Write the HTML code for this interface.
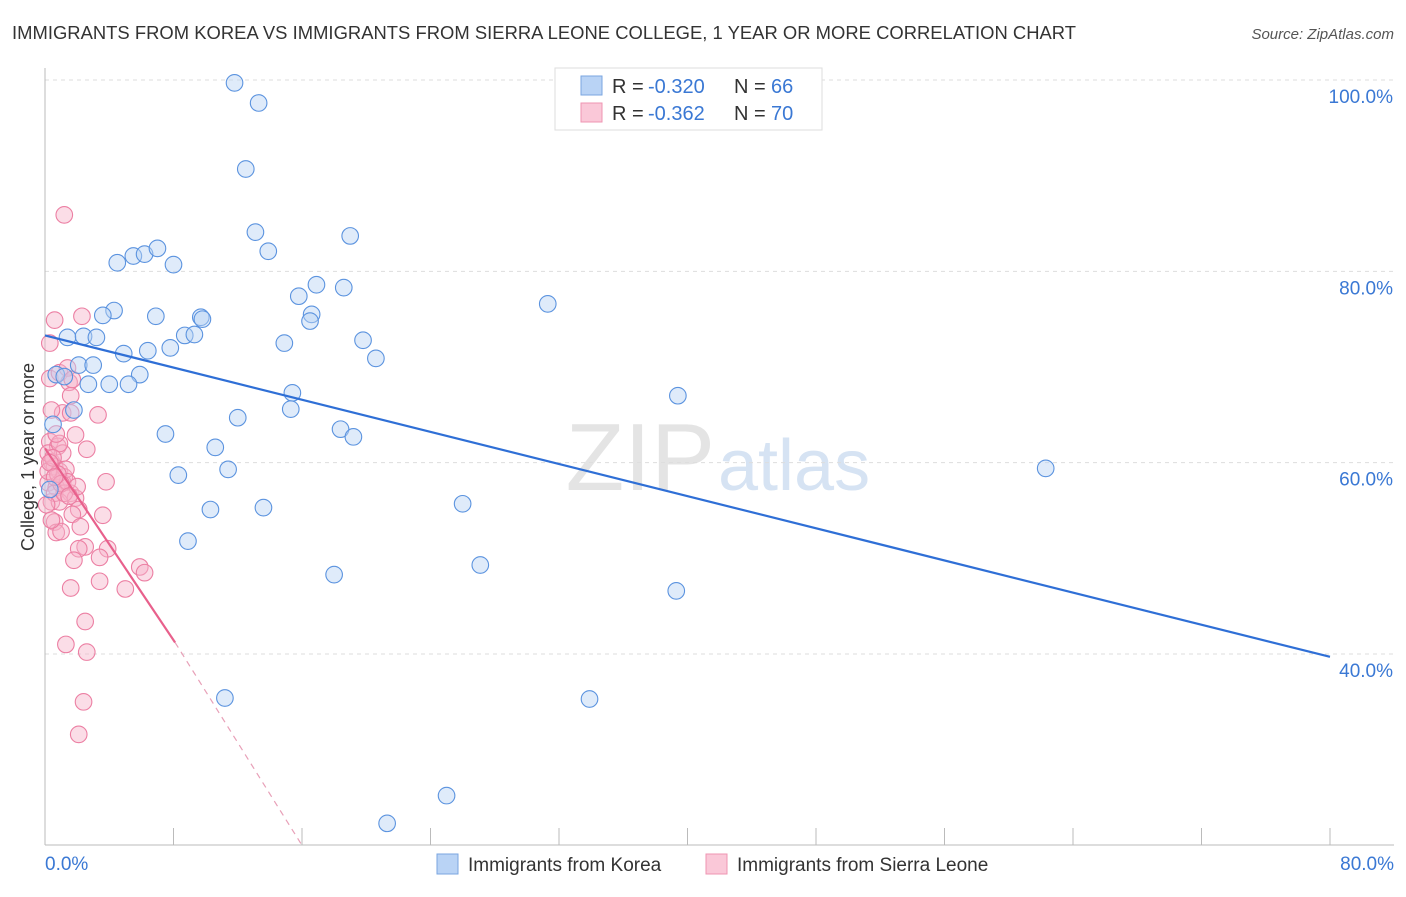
<!DOCTYPE html>
<html><head><meta charset="utf-8"><style>
body{margin:0;background:#fff;font-family:"Liberation Sans",sans-serif;}
svg text{font-family:"Liberation Sans",sans-serif;}
</style></head><body>
<svg id="c" width="1406" height="892" xmlns="http://www.w3.org/2000/svg">
<text x="12" y="39" font-size="18.4" fill="#333" textLength="1064">IMMIGRANTS FROM KOREA VS IMMIGRANTS FROM SIERRA LEONE COLLEGE, 1 YEAR OR MORE CORRELATION CHART</text>
<text x="1394" y="39" font-size="15" fill="#555" font-style="italic" text-anchor="end">Source: ZipAtlas.com</text>
<text x="715" y="490" font-size="96" fill="#e4e4e4" font-family="Liberation Serif" text-anchor="end">ZIP</text>
<text x="718" y="490" font-size="72" fill="#d6e3f3">atlas</text>
<g id="grid"></g><g id="marks"></g>
<text transform="translate(34,457) rotate(-90)" font-size="18" fill="#333" text-anchor="middle">College, 1 year or more</text>
<g>
<rect x="555" y="68" width="267" height="62" fill="#fff" stroke="#ddd"/>
<rect x="581" y="76" width="21" height="19" fill="#b9d3f5" stroke="#7aa6e0"/>
<rect x="581" y="103" width="21" height="19" fill="#fac8d8" stroke="#ef94b2"/>
<text x="612" y="93" font-size="20" fill="#333">R =</text><text x="648" y="93" font-size="20" fill="#3a78d4">-0.320</text>
<text x="734" y="93" font-size="20" fill="#333">N =</text><text x="771" y="93" font-size="20" fill="#3a78d4">66</text>
<text x="612" y="120" font-size="20" fill="#333">R =</text><text x="648" y="120" font-size="20" fill="#3a78d4">-0.362</text>
<text x="734" y="120" font-size="20" fill="#333">N =</text><text x="771" y="120" font-size="20" fill="#3a78d4">70</text>
</g>
<g>
<rect x="437" y="854" width="21" height="20" fill="#b9d3f5" stroke="#7aa6e0"/>
<text x="468" y="871" font-size="19" fill="#333">Immigrants from Korea</text>
<rect x="706" y="854" width="21" height="20" fill="#fac8d8" stroke="#ef94b2"/>
<text x="737" y="871" font-size="19" fill="#333">Immigrants from Sierra Leone</text>
</g>
</svg>
<script>
const yTicks=[100,80,60,40];
const xTickLabels=["0.0%","80.0%"];
const koreaX=[11.8,13.3,12.5,13.1,13.9,19.0,4.5,5.5,6.2,7.0,8.0,15.8,16.9,18.6,31.3,4.3,3.6,6.9,9.7,9.8,16.6,16.5,1.4,2.4,3.2,8.7,9.3,7.8,6.4,4.9,14.9,19.8,20.6,2.1,3.0,0.7,1.2,5.9,4.0,5.2,2.7,15.4,39.4,1.8,15.3,12.0,7.5,18.4,19.2,10.6,11.4,8.3,62.3,26.0,10.3,13.6,8.9,27.1,18.0,39.3,11.2,33.9,25.0,21.3,0.5,0.3];
const koreaY=[99.7,97.6,90.7,84.1,82.1,83.7,80.9,81.6,81.8,82.4,80.7,77.4,78.6,78.3,76.6,75.9,75.4,75.3,75.2,75.0,75.5,74.8,73.1,73.2,73.1,73.3,73.4,72.0,71.7,71.4,72.5,72.8,70.9,70.2,70.2,69.2,69.0,69.2,68.2,68.2,68.2,67.3,67.0,65.5,65.6,64.7,63.0,63.5,62.7,61.6,59.3,58.7,59.4,55.7,55.1,55.3,51.8,49.3,48.3,46.6,35.4,35.3,25.2,22.3,64.0,57.2];
const slX=[1.2,0.6,2.3,0.3,0.3,0.9,1.5,1.6,1.1,1.6,3.3,1.9,2.6,0.3,0.4,0.6,0.9,1.2,0.2,0.7,1.1,1.6,1.9,0.4,0.6,0.7,2.1,3.6,2.5,3.9,2.1,3.4,1.8,5.9,6.2,1.6,5.0,3.4,2.5,1.3,2.6,2.4,2.1,1.4,1.7,0.8,1.1,1.3,0.2,0.6,0.9,0.1,1.7,1.2,2.2,0.4,0.2,0.9,1.4,2.0,0.5,0.8,1.0,1.5,3.8,0.3,0.7,1.0,0.4,0.6];
const slY=[85.9,74.9,75.3,72.5,68.8,69.4,68.4,67.0,65.2,65.2,65.0,62.9,61.4,62.2,60.1,59.6,59.1,58.5,57.9,57.4,57.9,56.8,56.3,55.9,53.8,52.7,55.1,54.5,51.2,51.0,51.0,50.1,49.8,49.1,48.5,46.9,46.8,47.6,43.4,41.0,40.2,35.0,31.6,69.9,68.7,61.7,61.0,59.3,59.1,56.8,55.9,55.6,54.6,56.8,53.3,65.5,61.0,62.0,58.0,57.5,60.5,58.8,57.8,56.5,58.0,60.0,63.0,52.8,54.0,58.5];
const koreaTrend=[0,73.3,80,39.7];
const slTrend=[0,61.5,8.1,41.2,16.0,20];
const X=v=>45+v*1285/80, Y=v=>80+(100-v)*574/60;
const ns="http://www.w3.org/2000/svg", svg=document.getElementById('c');
const grid=document.getElementById('grid'), marks=document.getElementById('marks');
function mk(tag,attrs,parent){const e=document.createElementNS(ns,tag);for(const k in attrs)e.setAttribute(k,attrs[k]);parent.appendChild(e);return e;}
yTicks.forEach(t=>{
 const l=mk('line',{x1:45,x2:1394,y1:Y(t),y2:Y(t),stroke:'#ddd','stroke-dasharray':'4,4'},grid);
 
 
 const tx=mk('text',{x:1393,y:Y(t)+23,'font-size':19,fill:'#3a78d4','text-anchor':'end'},grid);tx.textContent=t.toFixed(1)+'%';
 
 
});
mk('line',{x1:45,x2:45,y1:68,y2:845,stroke:'#bbb'},grid);
mk('line',{x1:45,x2:1394,y1:845,y2:845,stroke:'#bbb'},grid);
for(let i=0;i<=10;i++){mk('line',{x1:X(i*8),x2:X(i*8),y1:828,y2:845,stroke:'#bbb'},grid);}
[[0,'start',45],[80,'end',1394]].forEach((d,i)=>{const t=mk('text',{x:d[2],y:870,'font-size':19,fill:'#3a78d4','text-anchor':d[1]},grid);t.textContent=xTickLabels[i];
 
 });
function pts(xs,ys,fill,stroke,name){xs.forEach((x,i)=>{const c=mk('circle',{cx:X(x),cy:Y(ys[i]),r:8.3,fill:fill,'fill-opacity':0.45,stroke:stroke,'stroke-width':1.1},marks);
 
 });}
pts(slX,slY,'#f7b3c9','#ec7fa3','point-sierra-leone');
pts(koreaX,koreaY,'#b9d3f5','#5b93df','point-korea');
const kt=mk('line',{x1:X(koreaTrend[0]),y1:Y(koreaTrend[1]),x2:X(koreaTrend[2]),y2:Y(koreaTrend[3]),stroke:'#2f6fd6','stroke-width':2.2},marks);


const st=mk('line',{x1:X(slTrend[0]),y1:Y(slTrend[1]),x2:X(slTrend[2]),y2:Y(slTrend[3]),stroke:'#e8608c','stroke-width':2.2},marks);


const sd=mk('line',{x1:X(slTrend[2]),y1:Y(slTrend[3]),x2:X(slTrend[4]),y2:Y(slTrend[5]),stroke:'#e8a0b8','stroke-width':1.2,'stroke-dasharray':'6,5'},marks);


</script>
</body></html>
